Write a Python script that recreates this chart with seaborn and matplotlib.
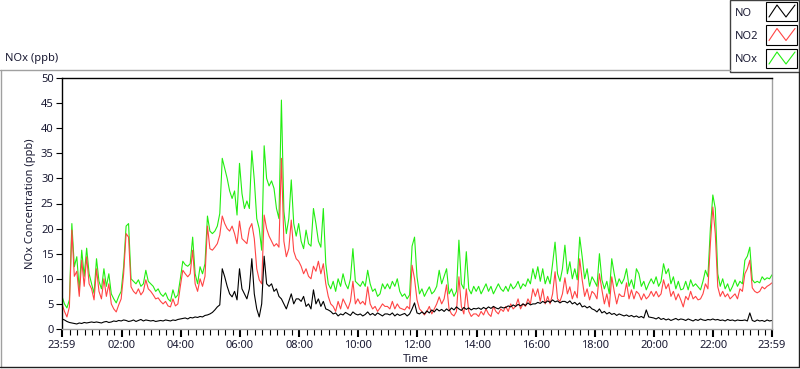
import numpy as np
import pandas as pd
import seaborn as sns
import matplotlib.pyplot as plt
from matplotlib.lines import Line2D
from matplotlib.patches import Rectangle

# 5-minute readings from 23:59 to 23:59 next day (one row of 12 per hour)
nox_ppb = [
    6.5, 5.0, 4.2, 5.8, 21.0, 12.4, 14.4, 7.8, 15.7, 10.5, 16.1, 11.0,
    9.0, 7.1, 14.0, 9.5, 8.0, 12.0, 8.5, 11.0, 7.0, 6.0, 5.2, 6.5,
    7.5, 12.4, 20.5, 21.0, 10.0, 9.5, 9.0, 9.8, 8.5, 9.0, 11.7, 9.5,
    9.0, 8.5, 7.5, 8.0, 7.0, 6.5, 7.2, 6.0, 5.5, 7.8, 6.2, 6.8,
    10.0, 13.5, 12.8, 12.5, 13.0, 18.3, 11.0, 9.0, 12.4, 11.0, 13.0, 22.5,
    19.5, 19.0, 19.5, 20.5, 23.0, 34.0, 32.0, 30.0, 27.5, 26.0, 27.5, 22.7,
    33.0, 27.0, 24.0, 25.5, 24.0, 35.5, 29.7, 22.0, 20.0, 15.7, 36.5, 30.0,
    28.5, 29.5, 28.0, 24.0, 22.0, 45.6, 23.5, 19.0, 22.0, 29.7, 21.0, 18.5,
    21.0, 17.5, 16.0, 19.7, 17.0, 16.5, 24.0, 21.0, 17.5, 16.3, 24.0, 13.0,
    9.0, 8.0, 9.5, 7.5, 10.0, 8.5, 11.0, 9.0, 8.0, 10.0, 16.0, 9.5,
    9.0, 8.5, 9.5, 8.5, 11.7, 9.0, 7.5, 8.0, 6.5, 7.0, 9.0, 8.0,
    9.0, 8.0, 9.5, 8.5, 10.0, 7.5, 6.5, 7.0, 6.0, 6.8, 16.5, 18.3,
    10.4, 7.0, 8.0, 6.5, 7.5, 8.4, 7.0, 7.5, 8.5, 11.7, 9.0, 10.5,
    12.0, 7.0, 8.0, 6.5, 7.5, 17.7, 9.0, 8.0, 15.4, 8.0, 7.0, 8.5,
    7.5, 8.5, 7.0, 8.0, 9.0, 7.5, 8.5, 7.0, 8.0, 9.0, 8.0, 7.5,
    8.5, 7.5, 9.0, 8.0, 8.5, 9.5, 8.0, 9.0, 8.5, 10.0, 9.0, 12.0,
    10.0, 12.4, 9.5, 12.0, 9.0, 10.5, 9.0, 13.0, 17.3, 11.0, 9.5, 12.0,
    16.7, 11.0, 13.4, 10.0, 12.0, 9.8, 18.3, 14.4, 10.0, 12.0, 8.5, 10.4,
    9.5, 8.5, 15.0, 9.8, 8.0, 9.5, 7.0, 14.0, 11.0, 8.5, 10.0, 9.0,
    10.0, 12.0, 8.5, 9.8, 8.0, 12.0, 11.0, 8.5, 9.5, 7.8, 9.0, 10.0,
    9.0, 10.4, 8.5, 9.5, 13.0, 11.0, 12.0, 9.0, 10.4, 8.0, 9.5, 7.8,
    8.0, 9.5, 7.8, 9.8, 8.5, 9.0, 8.4, 7.8, 9.5, 11.7, 10.4, 20.0,
    26.7, 24.0, 11.0, 8.5, 10.0, 8.0, 9.0, 7.5, 8.5, 9.8, 8.5, 9.5,
    9.0, 13.7, 14.5, 16.3, 9.8, 9.2, 9.5, 9.2, 10.4, 9.8, 10.2, 10.0,
    10.8,
]
no2_ppb = [
    5.0, 3.5, 2.4, 4.4, 19.7, 10.5, 11.5, 6.5, 13.7, 8.5, 14.4, 9.0,
    8.0, 5.8, 12.0, 7.5, 6.0, 10.0, 6.5, 9.0, 5.0, 4.0, 3.4, 4.8,
    6.0, 11.0, 19.0, 18.3, 8.4, 7.5, 7.0, 8.0, 6.8, 7.5, 9.8, 8.0,
    7.5, 6.8, 6.0, 6.2, 5.5, 5.0, 5.5, 4.6, 4.4, 6.0, 4.6, 5.0,
    8.5, 11.7, 11.0, 10.4, 11.0, 15.7, 9.0, 7.5, 10.0, 8.5, 10.5, 20.5,
    16.0, 15.7, 16.3, 17.0, 18.7, 22.5, 21.0, 20.0, 19.5, 20.5, 19.0, 17.0,
    21.5, 18.0, 17.5, 17.0, 20.0, 21.0, 18.0, 12.0, 9.8, 9.0, 22.7, 20.0,
    18.5, 17.5, 16.5, 17.0, 16.3, 34.0, 17.5, 14.4, 16.0, 21.7, 15.5, 14.0,
    13.5, 12.5, 11.0, 12.0, 10.5, 10.0, 12.5, 11.5, 13.5, 11.0, 13.0, 9.0,
    6.5, 5.0, 4.5, 3.5, 5.5, 4.0, 6.0, 5.0, 4.0, 5.5, 9.5, 5.0,
    6.0, 5.0, 5.5, 4.8, 8.4, 5.0, 4.0, 4.5, 3.5, 4.2, 5.0, 4.5,
    4.5, 4.0, 5.5, 4.0, 5.0, 4.2, 4.0, 3.8, 4.5, 4.0, 12.7, 10.0,
    5.8, 4.0, 3.5, 2.8, 3.5, 4.5, 3.0, 4.0, 5.0, 6.4, 5.0, 6.0,
    8.8, 4.0, 3.0, 2.6, 3.5, 10.4, 4.5, 3.0, 8.0, 3.5, 2.5, 3.0,
    3.0, 2.5, 3.5, 2.8, 4.0, 3.0, 2.5, 4.5, 3.5, 3.0, 4.0, 3.5,
    4.5, 3.5, 5.0, 4.0, 4.5, 6.0, 4.0, 5.0, 4.5, 6.0, 5.0, 8.0,
    6.5, 8.0, 5.5, 8.0, 5.0, 6.5, 5.0, 7.0, 11.4, 6.0, 5.5, 7.0,
    10.2, 7.0, 8.4, 6.0, 7.5, 6.2, 14.0, 9.8, 6.5, 8.0, 5.8, 7.5,
    7.0, 6.0, 11.0, 7.8, 5.0, 7.0, 4.4, 10.4, 7.5, 5.0, 7.0, 6.5,
    6.5, 9.2, 6.0, 7.8, 6.0, 7.5, 7.0, 5.8, 7.0, 6.0, 6.5, 7.5,
    6.5, 7.5, 6.4, 7.0, 9.8, 8.0, 9.0, 6.5, 7.5, 5.8, 7.0, 5.8,
    4.4, 6.5, 5.8, 7.5, 6.0, 6.5, 5.8, 6.0, 7.0, 9.0, 8.0, 17.0,
    24.3, 19.0, 8.4, 6.5, 7.5, 6.4, 7.0, 6.0, 6.5, 7.0, 6.0, 8.0,
    7.5, 11.0, 12.0, 13.7, 8.2, 7.5, 7.2, 7.5, 8.4, 8.0, 8.5, 8.8,
    9.2,
]
no_ppb = [
    2.0, 1.8, 1.5, 1.3, 1.2, 1.1, 1.0, 1.2, 1.1, 1.3, 1.2, 1.3,
    1.4, 1.3, 1.4, 1.3, 1.2, 1.4, 1.5, 1.3, 1.4, 1.6, 1.5, 1.7,
    1.6, 1.8, 1.7, 1.5, 1.6, 1.8, 1.5, 1.7, 1.9, 1.6, 1.8, 1.7,
    1.6, 1.7, 1.5, 1.6, 1.7, 1.6, 1.8, 1.7, 1.6, 1.8, 1.7, 1.9,
    2.0, 2.1, 2.2, 2.0, 2.3, 2.2, 2.4, 2.3, 2.5, 2.4, 2.7, 2.8,
    3.0, 3.3, 3.8, 4.4, 4.8, 12.0, 10.4, 8.5, 7.0, 6.4, 7.5, 5.8,
    12.0, 8.0, 7.0, 6.0, 8.0, 14.0, 7.0, 4.0, 2.4, 5.0, 14.5, 9.0,
    8.5, 9.0, 7.5, 8.0, 6.5, 6.0, 5.0, 4.0, 5.5, 7.0, 5.0, 6.0,
    6.0, 5.5, 6.5, 4.5, 5.0, 4.0, 7.8, 5.0, 6.0, 4.5, 5.5, 4.0,
    3.8, 3.5, 3.0, 3.2, 2.6, 3.0, 2.8, 3.3, 3.0, 2.7, 3.4, 3.0,
    2.8, 3.0, 2.6, 2.9, 3.4, 2.8, 3.1, 2.7, 3.2, 2.9, 2.6, 3.0,
    3.0, 2.8, 3.2, 2.6, 3.0, 2.7, 2.9, 3.1, 2.6, 3.0, 4.0, 5.2,
    3.2, 3.0, 3.4, 3.0, 3.6, 3.2, 3.8, 3.4, 4.0, 3.6, 3.9, 3.5,
    4.0, 3.6, 4.2, 3.8, 4.4, 4.0, 3.7, 4.3, 3.9, 4.2, 3.8, 4.1,
    4.0, 4.2, 3.9, 4.3, 4.0, 4.4, 4.1, 4.5, 4.2, 4.0, 4.4, 4.2,
    4.3, 4.6, 4.4, 4.8, 4.5, 4.9, 4.6, 5.0, 4.7, 5.2, 4.8, 5.0,
    5.0, 5.3, 5.1, 5.5, 5.2, 5.6, 5.3, 5.8, 5.4, 5.6, 5.2, 5.5,
    5.5, 5.2, 5.6, 5.0, 5.3, 4.8, 5.2, 4.4, 4.6, 4.2, 4.5, 4.0,
    3.8, 3.4, 4.0, 3.2, 3.5, 3.0, 3.3, 2.9, 3.1, 2.7, 3.0, 2.8,
    2.6, 2.8, 2.5, 2.7, 2.4, 2.6, 2.3, 2.5, 2.2, 3.8, 2.4, 2.3,
    2.2, 2.0, 2.3, 1.9, 2.1, 1.8, 2.0, 1.7, 1.9, 2.1, 1.8, 2.0,
    1.9, 1.7, 2.0, 1.8, 1.6, 1.9, 1.7, 2.0, 1.8, 1.7, 1.9, 1.8,
    2.0, 1.8, 1.9, 1.7, 1.8, 1.6, 1.9, 1.7, 1.8, 1.6, 1.8, 1.7,
    1.7, 1.8, 1.6, 3.2, 1.7, 1.5, 1.8, 1.6, 1.7, 1.5, 1.8, 1.6,
    1.7,
]

series_names = ['NO', 'NO2', 'NOx']
series_colors = ['#000000', '#ff4444', '#22ee11']

# minutes after 23:59
tick_minutes = [0, 121, 241, 361, 481, 601, 721, 841, 961, 1081, 1201, 1321, 1440]
tick_labels = ['23:59', '02:00', '04:00', '06:00', '08:00', '10:00', '12:00',
               '14:00', '16:00', '18:00', '20:00', '22:00', '23:59']

minutes = np.arange(len(no_ppb)) * 5
df = pd.DataFrame({
    'Minute': np.tile(minutes, 3),
    'ppb': no_ppb + no2_ppb + nox_ppb,
    'Series': np.repeat(series_names, len(minutes)),
})

sns.set_style('white')
plt.rcParams['font.family'] = ['Noto Sans', 'DejaVu Sans']
txt = '#1a1a33'

W, H = 800, 369
fig = plt.figure(figsize=(8, 3.69), dpi=100)
ax = fig.add_axes([62 / W, 1 - 329 / H, 710 / W, 251 / H])

sns.lineplot(data=df, x='Minute', y='ppb', hue='Series',
             hue_order=['NOx', 'NO2', 'NO'],
             palette=dict(zip(series_names, series_colors)),
             estimator=None, sort=False, legend=False, linewidth=0.8, ax=ax)

ax.set_xlim(0, 1440)
ax.set_ylim(0, 50)
ax.set_yticks(range(0, 51, 5))
ax.set_xticks(tick_minutes)
ax.set_xticklabels(tick_labels)
minor = [m for m in range(16, 1440, 15) if m not in tick_minutes]
ax.set_xticks(minor, minor=True)
ax.set_xlabel('')
ax.set_ylabel('')

for side in ['top', 'left']:
    ax.spines[side].set_color('black')
    ax.spines[side].set_linewidth(1)
for side in ['bottom', 'right']:
    ax.spines[side].set_color('#a0a0a0')
    ax.spines[side].set_linewidth(1)

ax.tick_params(axis='x', which='major', direction='out', length=6, width=1.5,
               color='black', labelsize=8, labelcolor=txt, pad=2, bottom=True)
ax.tick_params(axis='x', which='minor', direction='out', length=4, width=0.8,
               color='black', bottom=True)
ax.tick_params(axis='y', direction='out', length=4, width=0.8, color='black',
               labelsize=8, labelcolor=txt, pad=2, left=True)

fig.text(31 / W, 1 - 204 / H, 'NOx Concentration (ppb)', rotation=90,
         ha='center', va='center', fontsize=8, color=txt)
fig.text(416 / W, 1 - 360 / H, 'Time', ha='center', va='center', fontsize=8, color=txt)
fig.text(5 / W, 1 - 59 / H, 'NOx (ppb)', ha='left', va='center', fontsize=8, color=txt)

# panel frame
def px_line(xs, ys, color, lw=1):
    fig.add_artist(Line2D([x / W for x in xs], [1 - y / H for y in ys],
                          transform=fig.transFigure, color=color, lw=lw))

px_line([0, 730], [69.5, 69.5], '#a0a0a0')
px_line([0.5, 0.5], [69.5, 367], '#a0a0a0')
px_line([0, 799], [366.5, 366.5], '#202020')
px_line([798.5, 798.5], [72, 367], '#202020')

# legend box
fig.add_artist(Rectangle((730 / W, 1 - 72 / H), 69 / W, 72 / H, transform=fig.transFigure,
                         facecolor='white', edgecolor='#404040', lw=1))
for k, (name, col) in enumerate(zip(series_names, series_colors)):
    y0 = 2 + k * 23.5
    fig.text(735 / W, 1 - (y0 + 11) / H, name, ha='left', va='center', fontsize=8, color=txt)
    fig.add_artist(Rectangle((766 / W, 1 - (y0 + 19) / H), 31 / W, 19 / H,
                             transform=fig.transFigure, facecolor='white',
                             edgecolor='black', lw=0.8))
    zx = [769, 777, 786, 795]
    zy = [y0 + 15, y0 + 3, y0 + 15, y0 + 3]
    px_line(zx, zy, col, lw=0.8)

fig.savefig('out.png', dpi=100)
